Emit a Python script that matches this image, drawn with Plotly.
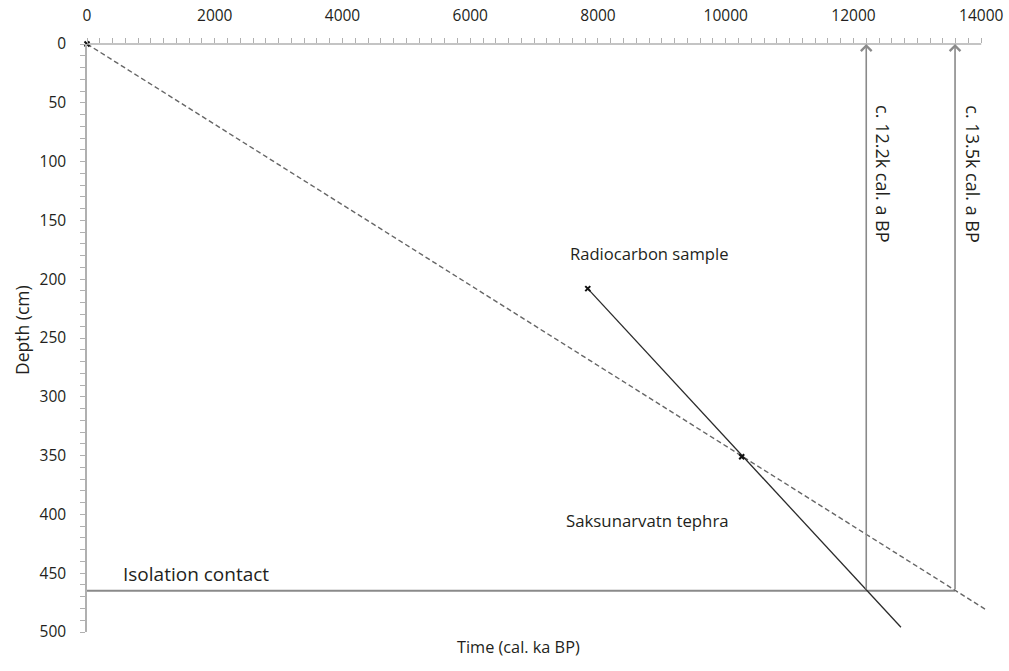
import plotly.graph_objects as go

# ---- data ----
age_model_time = [0, 14073]          # dashed age-depth line
age_model_depth = [0, 481]
radiocarbon_time = [7840, 12743]     # solid line through radiocarbon sample
radiocarbon_depth = [208, 496]
isolation_depth = 465                # isolation contact
boundary_ages = [12200, 13590]       # vertical arrows
boundary_labels = ["c. 12.2k cal. a BP", "c. 13.5k cal. a BP"]
point_time = [0, 7840, 10250]
point_depth = [0, 208, 351]
x_ticks = [0, 2000, 4000, 6000, 8000, 10000, 12000, 14000]
y_ticks = [0, 50, 100, 150, 200, 250, 300, 350, 400, 450, 500]
x_max_axis = 14000
y_max_axis = 500

FONT = "Open Sans, Lato, sans-serif"
TXT = "#231f20"
GRAY = "#8a8a8a"

fig = go.Figure()

# isolation contact line
fig.add_trace(go.Scatter(x=[0, boundary_ages[1]], y=[isolation_depth, isolation_depth],
                         mode="lines", line=dict(color=GRAY, width=2),
                         hoverinfo="skip", showlegend=False))
# dashed age model
fig.add_trace(go.Scatter(x=age_model_time, y=age_model_depth, mode="lines",
                         line=dict(color="#666666", width=1.4, dash="5px,3px"),
                         hoverinfo="skip", showlegend=False))
# radiocarbon line
fig.add_trace(go.Scatter(x=radiocarbon_time, y=radiocarbon_depth, mode="lines",
                         line=dict(color="#2a2a2a", width=1.3),
                         hoverinfo="skip", showlegend=False))
# markers
fig.add_trace(go.Scatter(x=point_time, y=point_depth, mode="markers",
                         marker=dict(symbol="x-thin", size=5, color="#111",
                                     line=dict(width=2, color="#111")),
                         cliponaxis=False, hoverinfo="skip", showlegend=False))

annotations = []
# vertical arrows
for age in boundary_ages:
    annotations.append(dict(x=age, y=0, ax=age, ay=isolation_depth,
                            xref="x", yref="y", axref="x", ayref="y",
                            showarrow=True, arrowhead=4, arrowsize=1.3,
                            arrowwidth=1.6, arrowcolor=GRAY, text=""))
# vertical labels
for age, lab, sh in zip(boundary_ages, boundary_labels, [16, 18]):
    annotations.append(dict(x=age, y=110, xref="x", yref="y", text=lab,
                            textangle=90, showarrow=False, xshift=sh,
                            font=dict(family=FONT, size=18, color=TXT)))
annotations += [
    dict(x=8800, y=178, xref="x", yref="y", text="Radiocarbon sample",
         showarrow=False, font=dict(family=FONT, size=16.6, color=TXT)),
    dict(x=8770, y=405, xref="x", yref="y", text="Saksunarvatn tephra",
         showarrow=False, font=dict(family=FONT, size=16.8, color=TXT)),
    dict(x=1710, y=451, xref="x", yref="y", text="Isolation contact",
         showarrow=False, font=dict(family=FONT, size=19, color=TXT)),
    dict(x=6750, y=0, xref="x", yref="paper", yshift=-28, text="Time (cal. ka BP)",
         showarrow=False, font=dict(family=FONT, size=16.3, color=TXT)),
    dict(x=0, y=0.5, xref="paper", yref="paper", xshift=-65, xanchor="center",
         yanchor="middle", text="Depth (cm)", yshift=8,
         textangle=-90, showarrow=False, font=dict(family=FONT, size=17.5, color=TXT)),
]

# top axis line drawn only up to 14000
shapes = [dict(type="line", xref="x", yref="paper", x0=0, x1=x_max_axis, y0=1, y1=1,
               line=dict(color="#b0b0b0", width=1.5), layer="above")]

fig.update_layout(
    width=1009, height=671,
    margin=dict(l=87, r=15, t=44, b=39, autoexpand=False),
    paper_bgcolor="white", plot_bgcolor="white",
    showlegend=False,
    annotations=annotations,
    shapes=shapes,
    font=dict(family=FONT, color=TXT),
    xaxis=dict(range=[0, 14200], side="top", showgrid=False, zeroline=False,
               showline=False, tickmode="array", tickvals=x_ticks, tickformat="d",
               automargin=False,
               ticks="outside", ticklen=5, tickcolor="#b0b0b0", tickwidth=1,
               ticklabelstandoff=11,
               minor=dict(tickmode="array",
                          tickvals=[v for v in range(0, x_max_axis + 1, 200)],
                          ticks="outside", ticklen=5, tickcolor="#b0b0b0", tickwidth=1),
               tickfont=dict(family=FONT, size=15.5, color=TXT)),
    yaxis=dict(range=[y_max_axis, 0], showgrid=False, zeroline=False,
               showline=True, linecolor="#b0b0b0", linewidth=1.5, automargin=False,
               tickmode="array", tickvals=y_ticks,
               ticks="outside", ticklen=5, tickcolor="#b0b0b0", tickwidth=1,
               ticklabelstandoff=11,
               minor=dict(tickmode="array",
                          tickvals=[v for v in range(0, y_max_axis + 1, 10)],
                          ticks="outside", ticklen=5, tickcolor="#b0b0b0", tickwidth=1),
               tickfont=dict(family=FONT, size=15.5, color=TXT)),
)

fig.write_html("out.html")
